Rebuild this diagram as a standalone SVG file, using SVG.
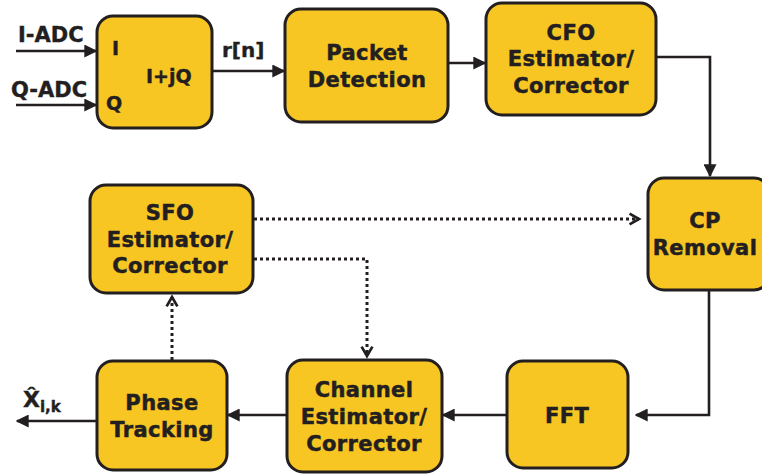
<svg xmlns="http://www.w3.org/2000/svg" width="762" height="475" viewBox="0 0 762 475">
  <defs>
    <style>
      .box { fill: #F8C623; stroke: #231F20; stroke-width: 3; }
      .lbl { font-family: "DejaVu Sans", "Liberation Sans", sans-serif; font-weight: bold; font-size: 21px; fill: #231F20; stroke: #231F20; stroke-width: 0.5; text-anchor: middle; letter-spacing: 0.4px; }
      .io { font-family: "DejaVu Sans", "Liberation Sans", sans-serif; font-weight: bold; font-size: 19px; fill: #231F20; stroke: #231F20; stroke-width: 0.4; }
      .wire { fill: none; stroke: #231F20; stroke-width: 2.6; }
      .dot { fill: none; stroke: #231F20; stroke-width: 3; stroke-dasharray: 3 3; }
    </style>
    <marker id="tri" viewBox="0 0 10 10" refX="9" refY="5" markerWidth="5" markerHeight="5" orient="auto" markerUnits="strokeWidth">
      <path d="M0,0 L10,5 L0,10 Z" fill="#231F20"/>
    </marker>
    <marker id="chev" viewBox="0 0 10 10" refX="8" refY="5" markerWidth="4.5" markerHeight="4.5" orient="auto" markerUnits="strokeWidth">
      <path d="M1,1 L8,5 L1,9" fill="none" stroke="#231F20" stroke-width="2"/>
    </marker>
  </defs>

  <rect width="762" height="475" fill="#ffffff"/>

  <!-- signal flow connectors -->
  <g id="connectors">
    <line class="wire" x1="16" y1="51" x2="96" y2="51" marker-end="url(#tri)"/>
    <line class="wire" x1="16" y1="105" x2="96" y2="105" marker-end="url(#tri)"/>
    <line class="wire" x1="212" y1="71" x2="284" y2="71" marker-end="url(#tri)"/>
    <line class="wire" x1="448" y1="63" x2="485" y2="63" marker-end="url(#tri)"/>
    <polyline class="wire" points="656,57 710,57 710,176" marker-end="url(#tri)"/>
    <polyline class="wire" points="709,290 709,415 636,415" marker-end="url(#tri)"/>
    <line class="wire" x1="507" y1="415" x2="443" y2="415" marker-end="url(#tri)"/>
    <line class="wire" x1="287" y1="415" x2="228" y2="415" marker-end="url(#tri)"/>
    <line class="wire" x1="97" y1="421" x2="17" y2="421" marker-end="url(#tri)"/>
    <line class="dot" x1="254" y1="219" x2="639" y2="219" marker-end="url(#chev)"/>
    <polyline class="dot" points="254,259 367,259 367,356" marker-end="url(#chev)"/>
    <line class="dot" x1="172" y1="360" x2="172" y2="297" marker-end="url(#chev)"/>
  </g>

  <text class="io" x="18" y="42" style="font-size:21px">I-ADC</text>
  <text class="io" x="11" y="97" style="font-size:21px">Q-ADC</text>
  <text class="io" x="222" y="57" style="font-size:20px">r[n]</text>

  <g id="iq">
    <rect class="box" x="97" y="16" width="115" height="112" rx="16"/>
    <text class="io" x="112" y="55">I</text>
    <text class="io" x="106" y="110">Q</text>
    <text class="io" x="146" y="83">I+jQ</text>
  </g>

  <g id="packet-detection">
    <rect class="box" x="285" y="9" width="163" height="113" rx="16"/>
    <text class="lbl" x="367" y="60">Packet</text>
    <text class="lbl" x="367" y="87">Detection</text>
  </g>

  <g id="cfo">
    <rect class="box" x="486" y="3" width="170" height="112" rx="16"/>
    <text class="lbl" x="571" y="40">CFO</text>
    <text class="lbl" x="571" y="66">Estimator/</text>
    <text class="lbl" x="571" y="93">Corrector</text>
  </g>

  <g id="cp-removal">
    <rect class="box" x="648" y="178" width="122" height="112" rx="16"/>
    <text class="lbl" x="705" y="228">CP</text>
    <text class="lbl" x="705" y="255">Removal</text>
  </g>

  <g id="sfo">
    <rect class="box" x="90" y="185" width="163" height="108" rx="16"/>
    <text class="lbl" x="170" y="220">SFO</text>
    <text class="lbl" x="170" y="247">Estimator/</text>
    <text class="lbl" x="170" y="273">Corrector</text>
  </g>

  <g id="fft">
    <rect class="box" x="507" y="361" width="121" height="107" rx="16"/>
    <text class="lbl" x="567" y="423">FFT</text>
  </g>

  <g id="channel">
    <rect class="box" x="287" y="360" width="155" height="112" rx="16"/>
    <text class="lbl" x="364" y="397">Channel</text>
    <text class="lbl" x="364" y="424">Estimator/</text>
    <text class="lbl" x="364" y="451">Corrector</text>
  </g>

  <g id="phase-tracking">
    <rect class="box" x="97" y="361" width="130" height="109" rx="16"/>
    <text class="lbl" x="162" y="410">Phase</text>
    <text class="lbl" x="162" y="437">Tracking</text>
  </g>

  <g id="output-label">
    <text class="io" x="23" y="407" style="font-size:22px">X&#x302;<tspan style="font-size:15px" dy="5">i,k</tspan></text>
  </g>
</svg>
